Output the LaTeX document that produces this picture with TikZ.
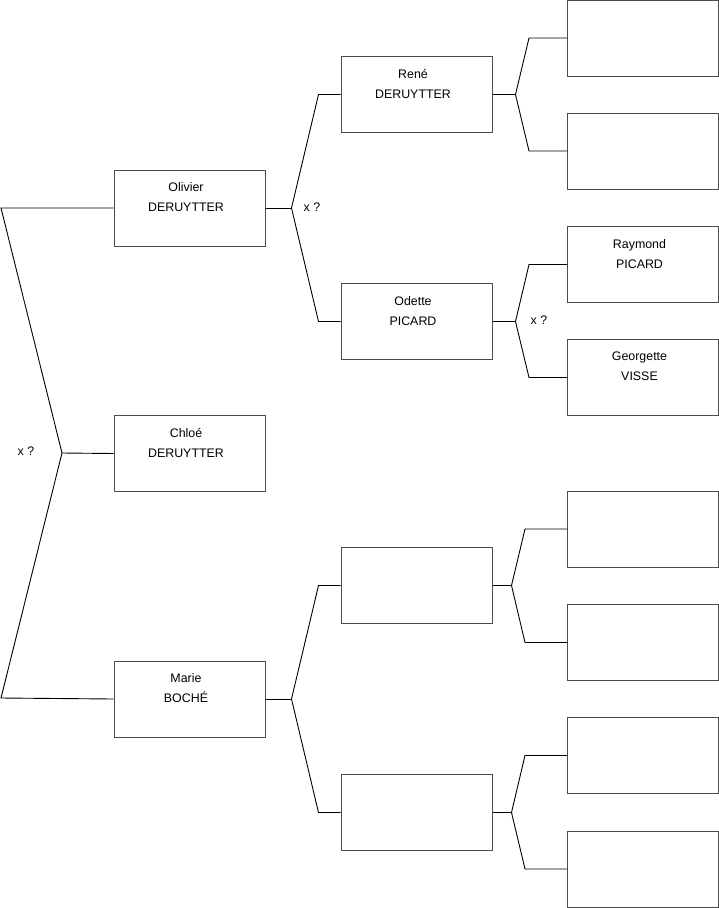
\documentclass[tikz,border=0pt]{standalone}
\usepackage{fontspec}
\setmainfont{Liberation Sans}
\usetikzlibrary{positioning}
\usetikzlibrary{calc}

\tikzset{
  box/.style={draw=black!70, line width=1pt, minimum width=151pt, minimum height=76pt, inner sep=0pt},
  name text/.style={anchor=north, align=center, inner sep=0pt, font=\fontsize{12.4}{20}\selectfont},
  person/.style 2 args={box, label={[name text, xshift=-3.5pt, yshift=-13pt]north:{#1\\#2}}},
  link/.style={black, line width=0.9pt},
  guess/.style={font=\fontsize{12.4}{15}\selectfont}
}

\begin{document}
\begin{tikzpicture}[x=1pt, y=-1pt]
  \useasboundingbox (0,0) rectangle (719,908);

  % génération 1
  \node[person={Chloé}{DERUYTTER}]   (chloe)   at (189.5,453.5) {};
  \node[person={Olivier}{DERUYTTER}] (olivier) at (189.5,208)   {};
  \node[person={Marie}{BOCHÉ}]       (marie)   at (189.5,699)   {};

  % génération 2
  \node[person={René}{DERUYTTER}] (rene)   at (416.5,94.5)  {};
  \node[person={Odette}{PICARD}]  (odette) at (416.5,321.5) {};
  \node[box] (vide1) at (416.5,585.5) {};
  \node[box] (vide2) at (416.5,812.5) {};

  % génération 3
  \node[box] (rene1) at (643,38)  {};
  \node[box] (rene2) at (643,151) {};
  \node[person={Raymond}{PICARD}]  (raymond)   at (643,264.5) {};
  \node[person={Georgette}{VISSE}] (georgette) at (643,377.5) {};
  \foreach \i/\y in {1/529,2/642.5,3/755.5,4/869}
    \node[box] (vide\i x) at (643,\y) {};

  % parents de Chloé
  \coordinate (fc) at (62,453);
  \coordinate (lo) at (1,208);
  \coordinate (lm) at (1,698);
  \draw[link] (chloe.west) -- (fc);
  \draw[link] (olivier.west) -- (lo) -- (fc) -- (lm) -- (marie.west);
  \node[guess] (xc) at (26,451) {x ?};

  % parents d'Olivier
  \draw[link] (olivier.east) -- ++(26,0) coordinate (fo);
  \draw[link] (rene.west) -- ++(-22,0) -- (fo) -- ($(odette.west)+(-22,0)$) -- (odette.west);
  \node[guess] (xo) at (312,207) {x ?};

  % parents de Marie
  \draw[link] (marie.east) -- ++(26,0) coordinate (fm);
  \draw[link] (vide1.west) -- ++(-22,0) -- (fm) -- ($(vide2.west)+(-22,0)$) -- (vide2.west);

  % parents de René
  \draw[link] (rene.east) -- ++(23,0) coordinate (fr);
  \draw[link] (rene1.west) -- ++(-38,0) -- (fr) -- ($(rene2.west)+(-38,0)$) -- (rene2.west);

  % parents d'Odette
  \draw[link] (odette.east) -- ++(23,0) coordinate (fd);
  \draw[link] (raymond.west) -- ++(-38,0) -- (fd) -- ($(georgette.west)+(-38,0)$) -- (georgette.west);
  \node[guess] (xd) at (539,320) {x ?};

  % cases vides
  \draw[link] (vide1.east) -- ++(19,0) coordinate (fv1);
  \draw[link] (vide1x.west) -- ++(-42,0) -- (fv1) -- ($(vide2x.west)+(-42,0)$) -- (vide2x.west);
  \draw[link] (vide2.east) -- ++(19,0) coordinate (fv2);
  \draw[link] (vide3x.west) -- ++(-42,0) -- (fv2) -- ($(vide4x.west)+(-42,0)$) -- (vide4x.west);
\end{tikzpicture}
\end{document}
